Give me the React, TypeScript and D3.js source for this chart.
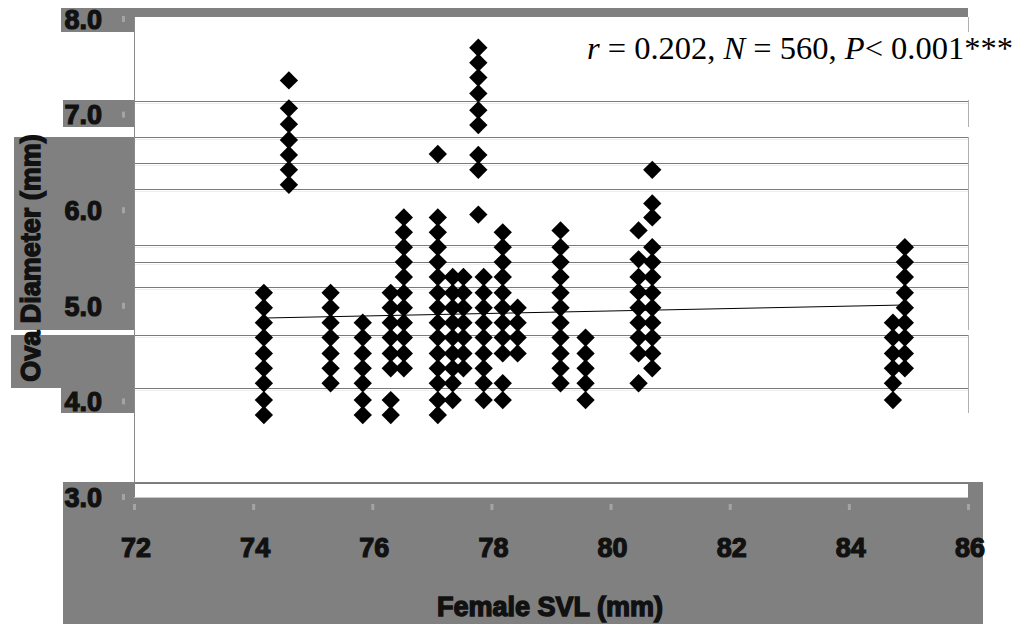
import React, { useEffect } from 'react';
import * as d3 from 'd3';

// ---- data ----
const svlColumns = [74.18, 74.6, 75.3, 75.84, 76.31, 76.53, 77.1, 77.35, 77.53, 77.78, 77.87, 78.19, 78.44, 79.16, 79.58, 80.47, 80.7, 84.74, 84.94];
const ovaByColumn = [
  [5.04, 4.88, 4.72, 4.56, 4.39, 4.23, 4.07, 3.89, 3.73],
  [7.32, 7.02, 6.85, 6.68, 6.52, 6.36, 6.2],
  [5.04, 4.88, 4.72, 4.56, 4.39, 4.23, 4.07],
  [4.72, 4.56, 4.39, 4.23, 4.07, 3.89, 3.73],
  [5.04, 4.88, 4.72, 4.56, 4.39, 4.23, 3.89, 3.73],
  [5.85, 5.69, 5.53, 5.37, 5.21, 5.04, 4.88, 4.72, 4.56, 4.39, 4.23],
  [6.53, 5.85, 5.69, 5.53, 5.37, 5.21, 5.04, 4.88, 4.72, 4.56, 4.39, 4.23, 4.07, 3.89, 3.73],
  [5.21, 5.04, 4.88, 4.72, 4.56, 4.39, 4.23, 4.07, 3.89],
  [5.21, 5.04, 4.88, 4.72, 4.56, 4.39, 4.23],
  [7.67, 7.51, 7.35, 7.18, 7.0, 6.84, 6.52, 6.36, 5.88],
  [5.21, 5.04, 4.88, 4.72, 4.56, 4.39, 4.23, 4.07, 3.89],
  [5.69, 5.53, 5.37, 5.21, 5.04, 4.88, 4.72, 4.56, 4.39, 4.07, 3.89],
  [4.88, 4.72, 4.56, 4.39],
  [5.71, 5.53, 5.37, 5.21, 5.04, 4.88, 4.72, 4.56, 4.39, 4.23, 4.07],
  [4.56, 4.39, 4.23, 4.07, 3.89],
  [5.71, 5.4, 5.21, 5.05, 4.88, 4.72, 4.56, 4.39, 4.07],
  [6.36, 6.0, 5.85, 5.53, 5.37, 5.21, 5.04, 4.88, 4.72, 4.56, 4.39, 4.23],
  [4.72, 4.56, 4.39, 4.23, 4.07, 3.89],
  [5.53, 5.37, 5.21, 5.04, 4.88, 4.72, 4.56, 4.39, 4.23],
];
const trendSVL = [74.18, 84.94];
const trendOva = [4.77, 4.91];
const xTicks = [72, 74, 76, 78, 80, 82, 84, 86];
const yTicks = [3, 4, 5, 6, 7, 8];
const gridValues = [7.1, 6.71, 6.43, 6.15, 5.55, 5.37, 5.1, 4.59, 4.02];
const xTitle = 'Female SVL (mm)';
const yTitle = 'Ova Diameter (mm)';

// ---- layout ----
const W = 1016, H = 624;
const PL = 134, PR = 968, PT = 17, PB = 483;
const GRAY = '#808080';

const points = svlColumns.flatMap((x, i) => ovaByColumn[i].map((y) => ({ x, y })));

export default function App() {
  useEffect(() => {
    document.body.style.margin = '0';
  }, []);
  const x = d3.scaleLinear().domain([72, 86]).range([PL, PR]);
  const y = d3.scaleLinear().domain([3, 8]).range([PB, PT]);
  const yLab = d3.scaleLinear().domain([3, 8]).range([497, 19]);
  const diamond = d3.symbol(d3.symbolSquare, 168)() as string;
  const line = d3.line<number>().x((d) => x(d)).y((_, i) => y(trendOva[i]));

  const tickFont = { fontFamily: 'Liberation Sans, Arial, sans-serif', fontWeight: 700, fontSize: 27, fill: '#111', stroke: '#111', strokeWidth: 1.2 };

  // scan bands (decoration)
  const rightBorderBands = [[17, 32], [100, 127], [137, 330], [335, 413]];

  return (
    <svg width={W} height={H} style={{ display: 'block', background: '#fff' }}>
      {/* gray scan blocks */}
      <rect x={61} y={8} width={PL - 61} height={24} fill={GRAY} />
      <rect x={PL} y={8} width={PR - PL} height={PT - 8} fill={GRAY} />
      <rect x={63} y={100} width={PL - 63} height={27} fill={GRAY} />
      <rect x={14} y={137} width={PL - 14} height={193} fill={GRAY} />
      <rect x={11} y={335} width={PL - 11} height={53} fill={GRAY} />
      <rect x={61} y={388} width={PL - 61} height={25} fill={GRAY} />
      <rect x={63} y={PB - 1} width={983 - 63} height={H - PB + 1} fill={GRAY} />
      <rect x={PL + 1} y={PB + 1} width={PR - PL - 1} height={13} fill="#fff" />
      <line x1={PL} x2={PR} y1={PB + 14.5} y2={PB + 14.5} stroke="#c8c8c8" />

      {/* grid lines */}
      {gridValues.map((g) => (
        <g key={g}>
          <line x1={PL} x2={PR} y1={Math.round(y(g)) + 0.5} y2={Math.round(y(g)) + 0.5} stroke="#7a7a7a" strokeWidth={1} />
          <line x1={PL} x2={PR} y1={Math.round(y(g)) + 2.5} y2={Math.round(y(g)) + 2.5} stroke="#eeeeee" strokeWidth={1} />
        </g>
      ))}
      {/* axes */}
      <line x1={PL + 0.5} x2={PL + 0.5} y1={PT} y2={PB} stroke="#8a8a8a" />
      <line x1={PL} x2={PR} y1={PB + 0.5} y2={PB + 0.5} stroke="#7a7a7a" />
      {rightBorderBands.map(([a, b]) => (
        <line key={a} x1={PR + 0.5} x2={PR + 0.5} y1={a} y2={b} stroke="#b0b0b0" />
      ))}

      {/* y tick labels */}
      {yTicks.map((t) => (
        <g key={t}>
          <text x={102} y={yLab(t)} dy="0.36em" textAnchor="end" {...tickFont}>{t.toFixed(1)}</text>
          <rect x={122} y={yLab(t) - 3} width={3} height={6} fill="#a4a4a4" />
        </g>
      ))}
      {/* x tick labels */}
      {xTicks.map((t) => (
        <g key={t}>
          <rect x={x(t) - 1} y={504} width={3} height={6} fill="#a4a4a4" />
          <text x={x(t) + 2} y={547} dy="0.36em" textAnchor="middle" {...tickFont}>{t}</text>
        </g>
      ))}

      {/* axis titles */}
      <text x={550} y={616} textAnchor="middle" {...tickFont} strokeWidth={1.4}>{xTitle}</text>
      <text transform={`translate(40,${258}) rotate(-90)`} textAnchor="middle" {...tickFont} strokeWidth={1.4}>{yTitle}</text>

      {/* points */}
      {points.map((p, i) => (
        <path key={i} d={diamond} transform={`translate(${x(p.x)},${y(p.y)}) rotate(45)`} fill="#000" />
      ))}

      {/* trend line */}
      <path d={line(trendSVL) as string} fill="none" stroke="#000" strokeWidth={1} />

      {/* statistics */}
      <text x={1013} y={59} textAnchor="end" fontFamily="Liberation Serif, Times New Roman, serif" fontSize={32.5} fill="#000">
        <tspan fontStyle="italic">r</tspan> = 0.202, <tspan fontStyle="italic">N</tspan> = 560, <tspan fontStyle="italic">P</tspan>{'< 0.001***'}
      </text>
    </svg>
  );
}
